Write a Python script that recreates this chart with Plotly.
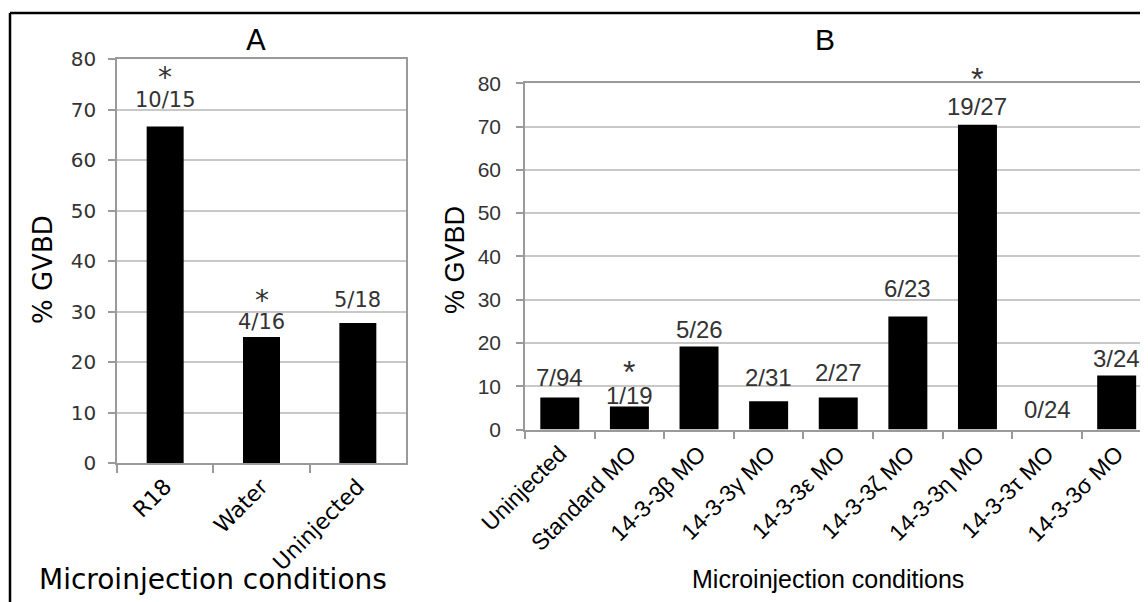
import plotly.graph_objects as go

# ---------------- data ----------------
cats_a = ["R18", "Water", "Uninjected"]
vals_a = [66.7, 25.0, 27.8]
labels_a = ["10/15", "4/16", "5/18"]
star_a = [True, True, False]

cats_b = ["Uninjected", "Standard MO", "14-3-3β MO", "14-3-3γ MO", "14-3-3ε MO",
          "14-3-3ζ MO", "14-3-3η MO", "14-3-3τ MO", "14-3-3σ MO"]
vals_b = [7.4, 5.3, 19.2, 6.5, 7.4, 26.1, 70.4, 0.0, 12.5]
labels_b = ["7/94", "1/19", "5/26", "2/31", "2/27", "6/23", "19/27", "0/24", "3/24"]
star_b = [False, True, False, False, False, False, True, False, False]

y_ticks = [0, 10, 20, 30, 40, 50, 60, 70, 80]

# ---------------- style ----------------
PAGE_W, PAGE_H = 1148, 602
BODY = 8                      # default page body margin
W, H = PAGE_W - BODY, PAGE_H - BODY
FONT_A = "DejaVu Sans, Verdana, sans-serif"
FONT_B = "Liberation Sans, Arial, sans-serif"
TXT = "#333333"
GRID = "#c8c8c8"
AXIS = "#9a9a9a"

# label offsets (pixels above bar top)
shift_a = [26, 15, 23]
star_shift_a = [54, 42, 0]
shift_b = [20, 11, 17, 24, 25, 28, 18, 20, 17]
star_shift_b = [0, 40, 0, 0, 0, 0, 51, 0, 0]


def px(x):
    return (x - BODY) / W


def py(y):
    return 1 - (y - BODY) / H


fig = go.Figure()
fig.add_trace(go.Bar(x=cats_a, y=vals_a, width=0.384, marker=dict(color="black", line=dict(width=0)),
                     xaxis="x", yaxis="y", showlegend=False))
fig.add_trace(go.Bar(x=cats_b, y=vals_b, width=0.56, marker=dict(color="black", line=dict(width=0)),
                     xaxis="x2", yaxis="y2", showlegend=False))

ann = []
for c, v, t, s, st, ss in zip(cats_a, vals_a, labels_a, star_a, shift_a, star_shift_a):
    ann.append(dict(x=c, y=v, xref="x", yref="y", text=t, showarrow=False, yanchor="middle",
                    yshift=st, font=dict(family=FONT_A, size=21, color=TXT)))
    if s:
        ann.append(dict(x=c, y=v, xref="x", yref="y", text="*", showarrow=False, yanchor="middle",
                        yshift=ss - 5, font=dict(family=FONT_A, size=28, color=TXT)))
for c, v, t, s, st, ss in zip(cats_b, vals_b, labels_b, star_b, shift_b, star_shift_b):
    ann.append(dict(x=c, y=v, xref="x2", yref="y2", text=t, showarrow=False, yanchor="middle",
                    yshift=st, font=dict(family=FONT_B, size=24, color=TXT)))
    if s:
        ann.append(dict(x=c, y=v, xref="x2", yref="y2", text="*", showarrow=False, yanchor="middle",
                        yshift=ss - 5, font=dict(family=FONT_B, size=32, color=TXT)))

# titles
ann += [
    dict(x=px(256), y=py(40), xref="paper", yref="paper", text="A", showarrow=False,
         xanchor="center", yanchor="middle", font=dict(family=FONT_A, size=29, color="black")),
    dict(x=px(825), y=py(40), xref="paper", yref="paper", text="B", showarrow=False,
         xanchor="center", yanchor="middle", font=dict(family=FONT_B, size=30, color="black")),
    dict(x=px(43), y=py(270), xref="paper", yref="paper", text="% GVBD", showarrow=False,
         textangle=-90, xanchor="center", yanchor="middle", font=dict(family=FONT_A, size=26, color="black")),
    dict(x=px(455), y=py(260), xref="paper", yref="paper", text="% GVBD", showarrow=False,
         textangle=-90, xanchor="center", yanchor="middle", font=dict(family=FONT_B, size=27, color="black")),
    dict(x=px(213), y=py(579), xref="paper", yref="paper", text="Microinjection conditions", showarrow=False,
         xanchor="center", yanchor="middle", font=dict(family=FONT_A, size=28, color="black")),
    dict(x=px(828), y=py(579), xref="paper", yref="paper", text="Microinjection conditions", showarrow=False,
         xanchor="center", yanchor="middle", font=dict(family=FONT_B, size=25, color="black")),
]

xcommon = dict(type="category", tickson="boundaries", ticks="outside", ticklen=8, tickwidth=1.5,
               tickcolor=AXIS, showline=True, linecolor=AXIS, linewidth=1.5, showgrid=False,
               tickangle=-45, fixedrange=True, automargin=False)
ycommon = dict(range=[0, 80], tickvals=y_ticks, ticks="outside", ticklen=7, tickwidth=1.5,
               tickcolor=AXIS, showgrid=True, gridcolor=GRID, gridwidth=1.5, showline=True,
               linecolor=AXIS, linewidth=1.5, zeroline=False, fixedrange=True, automargin=False)

fig.update_layout(
    template="none",
    width=W, height=H, autosize=False,
    margin=dict(l=0, r=0, t=0, b=0, pad=0),
    paper_bgcolor="white", plot_bgcolor="white",
    showlegend=False,
    xaxis=dict(domain=[px(117), px(406)], anchor="y", mirror=True, range=[-0.5, 2.5],
               tickfont=dict(family=FONT_A, size=22, color="black"), **xcommon),
    yaxis=dict(domain=[py(463.3), py(59.3)], anchor="x", mirror=True, ticklabelstandoff=8,
               tickfont=dict(family=FONT_A, size=20, color=TXT), **ycommon),
    xaxis2=dict(domain=[px(525), 1.0], anchor="y2", mirror=True, range=[-0.5, 8.45],
                tickfont=dict(family=FONT_B, size=23, color="black"), **xcommon),
    yaxis2=dict(domain=[py(429.5), py(83.3)], anchor="x2", mirror=False, ticklabelstandoff=11,
                tickfont=dict(family=FONT_B, size=21, color=TXT), **ycommon),
    annotations=ann,
    shapes=[
        dict(type="line", xref="paper", yref="paper", x0=px(10), x1=px(10), y0=0, y1=py(13),
             line=dict(color="black", width=2.5), layer="above"),
        dict(type="line", xref="paper", yref="paper", x0=px(10), x1=1, y0=py(13), y1=py(13),
             line=dict(color="black", width=2.5), layer="above"),
    ],
)

fig.write_html("out.html")
